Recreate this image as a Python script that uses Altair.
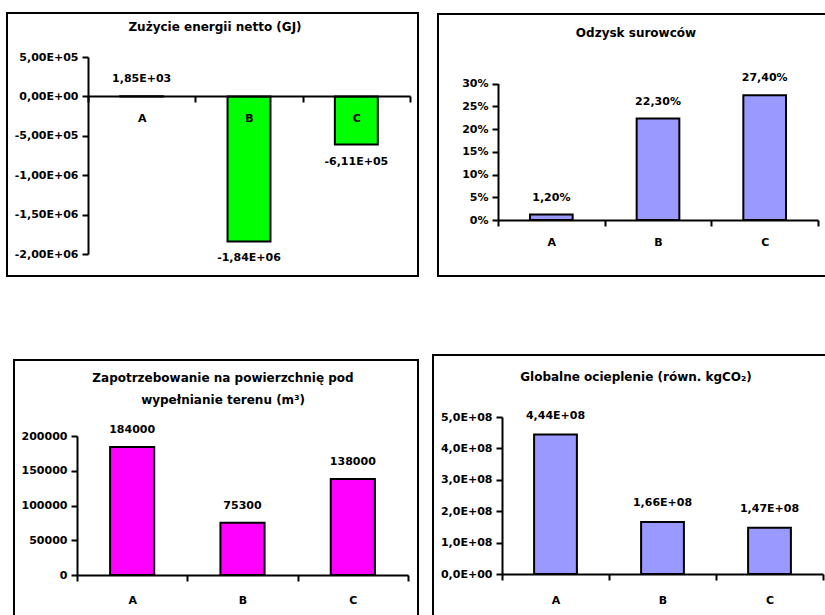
import altair as alt
import pandas as pd

# ---------------- data ----------------
cats = ["A", "B", "C"]

energy_vals = [1850, -1840000, -611000]          # Zużycie energii netto (GJ)
recovery_vals = [0.012, 0.223, 0.274]            # Odzysk surowców
landfill_vals = [184000, 75300, 138000]          # Zapotrzebowanie na powierzchnię (m³)
warming_vals = [4.44e8, 1.66e8, 1.47e8]          # Globalne ocieplenie (kgCO₂)

energy_ticks = [-2000000, -1500000, -1000000, -500000, 0, 500000]
recovery_ticks = [0, 0.05, 0.10, 0.15, 0.20, 0.25, 0.30]
landfill_ticks = [0, 50000, 100000, 150000, 200000]
warming_ticks = [0, 1e8, 2e8, 3e8, 4e8, 5e8]

title_energy = "Zużycie energii netto (GJ)"
title_recovery = "Odzysk surowców"
title_landfill_1 = "Zapotrzebowanie na powierzchnię pod"
title_landfill_2 = "wypełnianie terenu (m³)"
title_warming = "Globalne ocieplenie (równ. kgCO₂)"

FONT = "DejaVu Sans"
W, H = 825, 615

EXP2 = "replace(replace(replace(format({v}, '.2e'), '.', ','), 'e+', 'E+0'), '\u2212', '-')"
EXP1 = "replace(replace(replace(format({v}, '.1e'), '.', ','), 'e+', 'E+0'), '\u2212', '-')"
PCT2 = "replace(format({v}, '.2%'), '.', ',')"
PCT0 = "format({v}, '.0%')"
INT = "format({v}, 'd')"

one = pd.DataFrame({"k": [0]})


def border(x1, x2, y1, y2):
    return alt.Chart(one).mark_rect(
        fill="white", fillOpacity=0, stroke="black", strokeWidth=2
    ).encode(x=alt.value(x1), x2=alt.value(x2), y=alt.value(y1), y2=alt.value(y2))


def title(text, x, y):
    return alt.Chart(one).mark_text(
        font=FONT, fontSize=12, fontWeight="bold", color="black",
        align="center", baseline="alphabetic"
    ).encode(x=alt.value(x), y=alt.value(y), text=alt.value(text))


def panel(vals, xr, yr, dom, ticks, color, ylab_expr, xlabpad, lab_expr, dy):
    df = pd.DataFrame({"cat": cats, "v": vals})
    zero_px = yr[0] + (0 - dom[0]) / (dom[1] - dom[0]) * (yr[1] - yr[0])
    xscale = alt.Scale(domain=cats, range=xr, paddingInner=0, paddingOuter=0)
    yscale = alt.Scale(domain=dom, range=yr, nice=False, zero=True)
    xaxis = alt.Axis(
        orient="bottom", offset=round(zero_px - H), title=None, tickBand="extent",
        domainColor="black", domainWidth=2, tickColor="black", tickWidth=2,
        tickSize=6, labelFont=FONT, labelFontSize=11, labelFontWeight="bold",
        labelColor="black", labelPadding=xlabpad, labelAngle=0, grid=False,
        zindex=1,
    )
    yaxis = alt.Axis(
        orient="left", offset=-xr[0], title=None, values=ticks,
        labelExpr=ylab_expr.format(v="datum.value"),
        domainColor="black", domainWidth=2, tickColor="black", tickWidth=2,
        tickSize=6, labelFont=FONT, labelFontSize=11, labelFontWeight="bold",
        labelColor="black", labelPadding=4, grid=False, zindex=1,
    )
    bars = alt.Chart(df).mark_bar(
        color=color, stroke="black", strokeWidth=2,
        width=alt.RelativeBandSize(0.4)
    ).encode(
        x=alt.X("cat:N", scale=xscale, axis=xaxis),
        y=alt.Y("v:Q", scale=yscale, axis=yaxis),
    )
    base = alt.Chart(df).transform_calculate(
        lab=lab_expr.format(v="datum.v")
    )
    texts = []
    for sign, d in ((1, -dy), (-1, dy)):
        t = base.transform_filter(
            "datum.v >= 0" if sign > 0 else "datum.v < 0"
        ).mark_text(
            font=FONT, fontSize=11, fontWeight="bold", color="black",
            align="center", baseline="middle", dy=d
        ).encode(
            x=alt.X("cat:N", scale=xscale, axis=None),
            y=alt.Y("v:Q", scale=yscale, axis=None),
            text="lab:N",
        )
        texts.append(t)
    return [bars] + texts


layers = [
    border(7, 418, 13, 276),
    border(438, 832, 14, 276),
    border(14, 418, 360, 622),
    border(433, 832, 355, 622),
    title(title_energy, 215, 31),
    title(title_recovery, 636, 37),
    title(title_landfill_1, 223, 382),
    title(title_landfill_2, 223, 404),
    title(title_warming, 636, 381),
]

layers += panel(energy_vals, [88, 410], [254, 57], [-2000000, 500000],
                energy_ticks, "#00FF00", EXP2, 10, EXP2, 17)
layers += panel(recovery_vals, [498, 818], [220, 83.5], [0, 0.30],
                recovery_ticks, "#9999FF", PCT0, 10, PCT2, 17)
layers += panel(landfill_vals, [77, 408], [575, 436], [0, 200000],
                landfill_ticks, "#FF00FF", INT, 13, INT, 17)
layers += panel(warming_vals, [502, 823], [574, 417], [0, 5e8],
                warming_ticks, "#9999FF", EXP1, 14, EXP2, 19)

chart = alt.layer(*layers).resolve_scale(
    x="independent", y="independent"
).properties(
    width=W, height=H, padding=0,
    autosize=alt.AutoSizeParams(type="none"),
    background="white",
).configure_view(stroke=None)

chart.save("out.html", embed_options={"renderer": "svg", "actions": False})
